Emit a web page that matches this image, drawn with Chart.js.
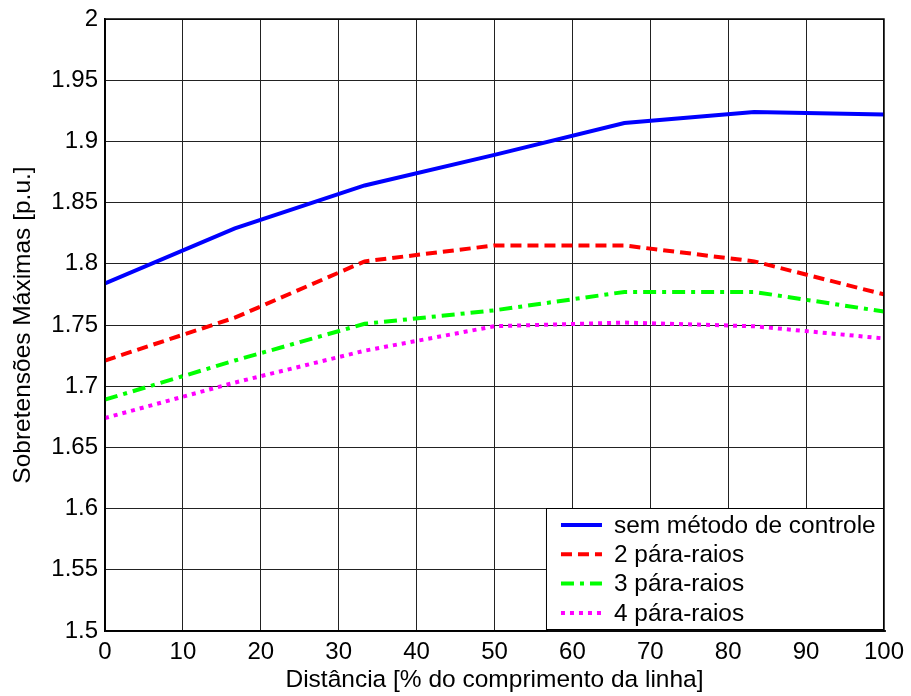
<!DOCTYPE html>
<html>
<head>
<meta charset="utf-8">
<script src="https://cdn.jsdelivr.net/npm/chart.js@4"></script>
<style>
  html, body { margin: 0; padding: 0; background: #fff; }
  #wrap { width: 911px; height: 696px; }
</style>
</head>
<body>
<div id="wrap"><canvas id="grafico" width="911" height="696"></canvas></div>
<script>
const distancias = [0, 16.67, 33.33, 50, 66.67, 83.33, 100];
const semControle = [1.784, 1.829, 1.864, 1.889, 1.915, 1.924, 1.922];
const doisPararaios = [1.721, 1.756, 1.802, 1.815, 1.815, 1.802, 1.775];
const tresPararaios = [1.689, 1.721, 1.751, 1.762, 1.777, 1.777, 1.761];
const quatroPararaios = [1.674, 1.703, 1.729, 1.749, 1.752, 1.749, 1.739];
const nomes = ['sem método de controle', '2 pára-raios', '3 pára-raios', '4 pára-raios'];

const fonte = 'Arial, "Liberation Sans", sans-serif';

function pontos(valores) {
  return distancias.map((d, i) => ({ x: d, y: valores[i] }));
}

// legenda no estilo do MATLAB, dentro da área do gráfico
const legendaCaixa = {
  id: 'legendaCaixa',
  afterDatasetsDraw(chart) {
    const ctx = chart.ctx;
    const area = chart.chartArea;
    const w = 338, h = 122;
    const x0 = area.right - w, y0 = area.bottom - h - 1;
    ctx.save();
    ctx.fillStyle = '#fff';
    ctx.fillRect(x0, y0, w, h);
    ctx.strokeStyle = '#000';
    ctx.lineWidth = 1;
    ctx.strokeRect(x0 + 0.5, y0 + 0.5, w - 1, h - 1);
    ctx.fillStyle = '#222';
    ctx.fillRect(x0 + 2, y0 + h, w, 2);
    ctx.font = '24.4px ' + fonte;
    ctx.textBaseline = 'middle';
    chart.data.datasets.forEach((ds, i) => {
      const y = y0 + 17 + i * 29.3;
      ctx.beginPath();
      ctx.strokeStyle = ds.borderColor;
      ctx.lineWidth = ds.borderWidth;
      ctx.setLineDash(ds.borderDash || []);
      ctx.moveTo(x0 + 15, y);
      ctx.lineTo(x0 + 56, y);
      ctx.stroke();
      ctx.setLineDash([]);
      ctx.fillStyle = '#000';
      ctx.fillText(ds.label, x0 + 68, y + 1);
    });
    ctx.restore();
  }
};

// moldura preta do eixo
const moldura = {
  id: 'moldura',
  afterDraw(chart) {
    const a = chart.chartArea;
    const ctx = chart.ctx;
    ctx.save();
    ctx.strokeStyle = '#000';
    ctx.lineWidth = 1.5;
    ctx.strokeRect(a.left, a.top, a.right - a.left, a.bottom - a.top);
    ctx.restore();
  }
};

const ctx = document.getElementById('grafico').getContext('2d');
new Chart(ctx, {
  type: 'line',
  data: {
    datasets: [
      { label: nomes[0], data: pontos(semControle), borderColor: '#0000ff', borderWidth: 4 },
      { label: nomes[1], data: pontos(doisPararaios), borderColor: '#ff0000', borderWidth: 4, borderDash: [11, 6] },
      { label: nomes[2], data: pontos(tresPararaios), borderColor: '#00ff00', borderWidth: 4, borderDash: [13, 6, 4, 6] },
      { label: nomes[3], data: pontos(quatroPararaios), borderColor: '#ff00ff', borderWidth: 4, borderDash: [4, 5] }
    ]
  },
  options: {
    responsive: false,
    animation: false,
    elements: { point: { radius: 0 }, line: { tension: 0, borderCapStyle: 'butt' } },
    layout: { padding: { top: 17, right: 27, left: 0, bottom: 0 } },
    plugins: { legend: { display: false }, tooltip: { enabled: false } },
    scales: {
      x: {
        type: 'linear',
        min: 0, max: 100,
        ticks: { stepSize: 10, autoSkip: false, color: '#000', font: { family: fonte, size: 24 }, padding: 7, maxRotation: 0 },
        grid: { color: '#222', lineWidth: 1, drawTicks: false },
        border: { display: true, color: '#000', width: 1.5 },
        title: { display: true, text: 'Distância [% do comprimento da linha]', color: '#000', font: { family: fonte, size: 24.5 }, padding: 1 },
        afterFit(scale) { scale.height = 65; }
      },
      y: {
        min: 1.5, max: 2,
        ticks: {
          stepSize: 0.05, autoSkip: false, color: '#000', font: { family: fonte, size: 24, lineHeight: 1 }, padding: 7,
          callback: v => String(Number(v.toFixed(2)))
        },
        grid: { color: '#222', lineWidth: 1, drawTicks: false },
        border: { display: true, color: '#000', width: 1.5 },
        title: { display: true, text: 'Sobretensões Máximas [p.u.]', color: '#000', font: { family: fonte, size: 24.5 }, padding: 9 },
        afterFit(scale) { scale.width = 105; }
      }
    }
  },
  plugins: [legendaCaixa, moldura]
});
</script>
</body>
</html>
